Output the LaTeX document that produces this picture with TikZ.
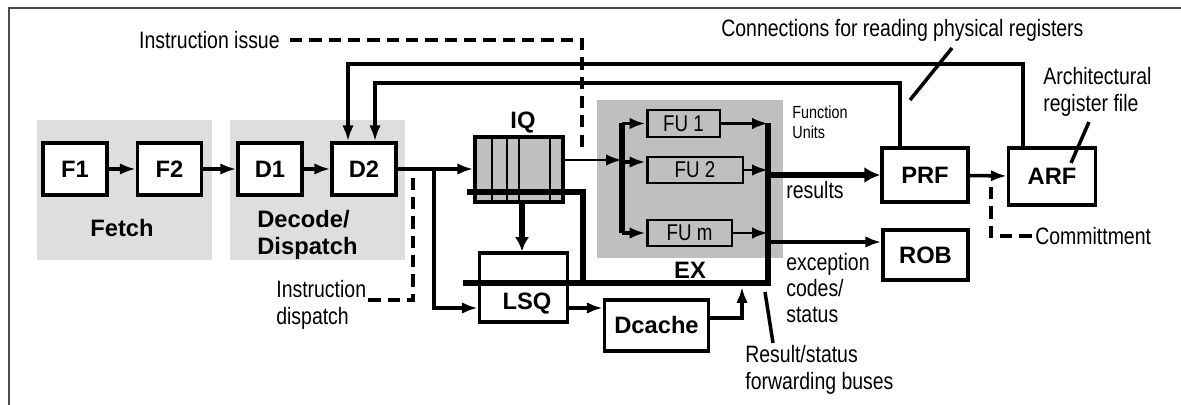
\documentclass[tikz,border=0pt]{standalone}
\usepackage{fontspec}
\setmainfont{Liberation Sans}
\newfontfamily\narrowfont[FakeStretch=0.82]{Liberation Sans}
\usetikzlibrary{arrows.meta,calc}

\definecolor{regiongray}{gray}{0.87}
\definecolor{exgray}{gray}{0.75}

\tikzset{
  blk/.style={draw, line width=2pt, fill=white, inner sep=0pt,
    font=\fontsize{13.5}{15}\selectfont\bfseries},
  stagebox/.style={blk, minimum width=1.28cm, minimum height=1.04cm},
  fu/.style={draw, line width=1.7pt, fill=exgray, inner sep=0pt,
    font=\narrowfont\fontsize{13}{14}\selectfont},
  lbl/.style={font=\fontsize{13.5}{15}\selectfont\bfseries, inner sep=0pt, align=left},
  ann/.style={font=\narrowfont\fontsize{13.5}{15}\selectfont, inner sep=0pt, align=left},
  arr/.style={line width=2pt, -{Latex[length=9pt,width=6.5pt]}},
  thinarr/.style={line width=1.5pt, -{Latex[length=9pt,width=6.5pt]}},
  bus/.style={line width=3.8pt},
  dsh/.style={line width=1.9pt, dash pattern=on 7pt off 4pt},
}

\begin{document}
\begin{tikzpicture}[x=0.02cm, y=-0.02cm]
  \useasboundingbox (0,0) rectangle (1181,405);
  \draw[line width=1pt, black!70] (9,405) -- (9,8) -- (1181,8);

  % stage backgrounds
  \fill[regiongray] (37,120) rectangle (212,260);
  \fill[regiongray] (230,120) rectangle (405,260);
  \fill[exgray] (597,100) rectangle (783,258);
  \node[lbl] (fetchlbl) at (122,228) {Fetch};
  \node[lbl, anchor=west] (declbl) at (257,235) {Decode/\\Dispatch};
  \node[lbl] (exlbl) at (690,270) {EX};

  % front end
  \foreach \n/\x in {F1/75, F2/169.5, D1/270, D2/364}
    \node[stagebox] (\n) at (\x,169) {\n};
  \draw[arr] (F1) -- (F2);
  \draw[arr] (F2) -- (D1);
  \draw[arr] (D1) -- (D2);

  % issue queue and load/store queue
  \node[blk, fill=exgray, minimum width=1.76cm, minimum height=1.3cm] (IQ) at (519,169.5) {};
  \foreach \x in {492,507,519,550}
    \draw[line width=1.5pt] (IQ.north -| \x,0) -- (IQ.south -| \x,0);
  \node[lbl, anchor=south] (iqlbl) at ($(IQ.north)+(4,-2)$) {IQ};
  \node[blk, minimum width=1.76cm, minimum height=1.38cm] (LSQ) at (523.5,287.5) {};
  \node[lbl] (lsqlbl) at (527,304) {LSQ};
  \node[blk, minimum width=2.08cm, minimum height=1.02cm] (Dcache) at (656.5,325.5) {Dcache};

  % function units
  \node[fu, minimum width=1.46cm, minimum height=0.54cm] (FU1) at (683.5,123.5) {FU 1};
  \node[fu, minimum width=1.92cm, minimum height=0.52cm] (FU2) at (695,170) {FU 2};
  \node[fu, minimum width=1.7cm, minimum height=0.52cm] (FUm) at (689.5,233) {FU m};

  % register files and ROB
  \node[blk, minimum width=1.72cm, minimum height=1.08cm] (PRF) at (925,175) {PRF};
  \node[blk, minimum width=1.74cm, minimum height=1.14cm] (ARF) at (1052,176.5) {ARF};
  \node[blk, minimum width=1.7cm, minimum height=1.0cm] (ROB) at (925.5,255) {ROB};

  % dispatch and issue
  \coordinate (br) at (434,169);
  \coordinate (lb) at (622,0);
  \coordinate (rb) at (768,0);
  \draw[arr] (D2.east) -- (D2.east -| IQ.west);
  \draw[arr] (br) |- (LSQ.west |- 0,308);
  \draw[thinarr] (IQ.east |- 0,160) -- (lb |- 0,160);
  \draw[bus] (FU1.west -| lb) -- (FUm.west -| lb);
  \draw[arr] (FU1.west -| lb) -- (FU1.west);
  \draw[arr] ($(FU2.west -| lb)+(0,-8)$) -- ($(FU2.west)+(0,-8)$);
  \draw[arr] (FUm.west -| lb) -- (FUm.west);

  % result/status buses
  \draw[bus] (FU1.east -| rb) -- (rb |- 0,283) -- (463,283);
  \draw[bus] (467,192) -| (583,283);
  \draw[bus, -{Latex[length=8pt,width=8pt]}] (IQ.south -| 522,0) -- (LSQ.north -| 522,0);
  \draw[thinarr] (FU1.east) -- (FU1.east -| rb);
  \draw[thinarr] (FU2.east) -- (FU2.east -| rb);
  \draw[thinarr] (FUm.east) -- (FUm.east -| rb);
  \draw[arr] (LSQ.east |- 0,308) -- (Dcache.west |- 0,308);
  \coordinate (dcin) at (742,287);
  \draw[arr] (Dcache.east |- 0,318) -| (dcin);
  \draw[bus, -{Latex[length=9pt,width=9pt]}] (rb |- PRF.west) -- (PRF.west);
  \draw[arr, line width=2.4pt] (rb |- 0,242) -- (ROB.west |- 0,242);
  \draw[arr] (PRF) -- (ARF);

  % register read connections
  \draw[arr] ($(ARF.north)+(-29,0)$) |- (348,64) -- (D2.north -| 348,0);
  \draw[arr] ($(PRF.north)+(-25,0)$) |- (375,83) -- (D2.north -| 375,0);

  % annotations
  \node[ann, anchor=east] (issue) at (280,40) {Instruction issue};
  \coordinate (issueend) at (582,152);
  \draw[dsh] (issue.east) ++(10,0) -| (issueend);
  \node[ann, anchor=west] (dispatch) at (276,305) {Instruction\\dispatch};
  \coordinate (dispend) at (413,178);
  \draw[dsh] ($(dispatch.east)+(2,-5)$) -| (dispend);
  \node[ann, anchor=west] (commit) at (1035,236) {Committment};
  \coordinate (commitstart) at (991,187);
  \draw[dsh] (commitstart) |- (commit.west);
  \node[ann, anchor=west] (conn) at (721,30) {Connections for reading physical registers};
  \draw[line width=2pt] (952,48) -- (910,100);
  \node[ann, anchor=west] (arch) at (1043,92) {Architectural\\register file};
  \draw[line width=2pt] (1089,122) -- (1071,163);
  \node[ann, anchor=west, font=\narrowfont\fontsize{10}{11.3}\selectfont] (fulbl) at (792,122) {Function\\Units};
  \node[ann, anchor=west] (res) at (786,190) {results};
  \node[ann, anchor=west] (exc) at (786,288) {exception\\codes/\\status};
  \node[ann, anchor=west] (fwd) at (745,370) {Result/status\\forwarding buses};
  \draw[line width=2pt] (765,292) -- (773,343);
\end{tikzpicture}
\end{document}
